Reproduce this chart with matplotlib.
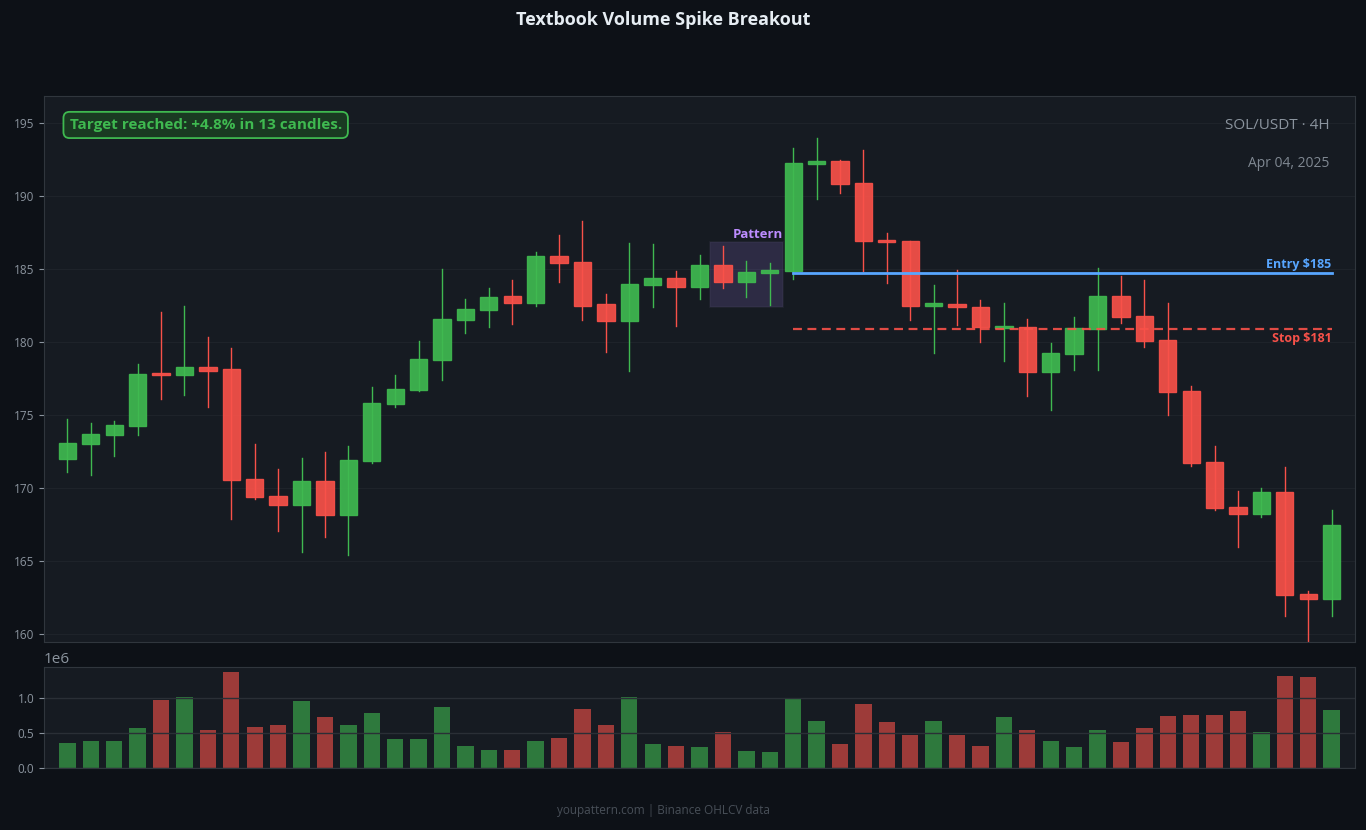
import matplotlib.pyplot as plt
from matplotlib.patches import Rectangle

plt.rcParams['font.family'] = ['Open Sans', 'DejaVu Sans']

# OHLCV data (SOL/USDT 4H)
opens = [171.97, 173.00, 173.63, 174.23, 177.84, 177.72, 178.27, 178.15, 170.60, 169.45,
         168.82, 170.46, 168.15, 171.85, 175.74, 176.68, 178.75, 181.49, 182.16, 183.15,
         182.64, 185.89, 185.48, 182.60, 181.44, 183.89, 184.37, 183.80, 185.26, 184.09,
         184.74, 184.86, 192.19, 192.40, 190.89, 186.97, 186.92, 182.50, 182.57, 182.38,
         180.94, 181.01, 177.93, 179.16, 180.89, 183.15, 181.78, 180.12, 176.63, 171.75,
         168.68, 168.20, 169.71, 162.72, 162.38]
highs = [174.74, 174.47, 174.59, 178.49, 182.07, 182.48, 180.36, 179.62, 173.03, 171.32,
         172.07, 172.48, 172.88, 176.92, 177.76, 180.10, 185.02, 182.96, 183.73, 184.25,
         186.18, 187.36, 188.32, 183.29, 186.80, 186.73, 184.88, 185.99, 186.59, 185.58,
         185.43, 193.32, 193.99, 192.45, 193.17, 187.48, 186.95, 183.89, 184.95, 182.88,
         182.69, 181.59, 179.95, 181.73, 185.10, 184.54, 184.25, 182.69, 177.00, 172.88,
         169.76, 169.98, 171.44, 162.96, 168.51]
lows = [171.10, 170.87, 172.16, 173.61, 176.13, 176.39, 175.53, 167.91, 169.28, 167.02,
        165.62, 166.61, 165.38, 171.68, 175.58, 176.63, 177.40, 180.62, 181.03, 181.25,
        182.48, 184.13, 181.49, 179.33, 178.03, 182.38, 181.11, 182.98, 183.68, 183.05,
        182.55, 184.35, 189.83, 190.19, 184.86, 184.06, 181.54, 179.25, 181.18, 180.02,
        178.68, 176.27, 175.36, 178.05, 178.05, 181.27, 179.69, 174.98, 171.54, 168.46,
        165.99, 167.98, 161.20, 159.42, 161.20]
closes = [173.08, 173.68, 174.30, 177.79, 177.74, 178.27, 177.98, 170.53, 169.35, 168.82,
          170.46, 168.15, 171.90, 175.82, 176.78, 178.82, 181.56, 182.26, 183.08, 182.64,
          185.89, 185.38, 182.50, 181.44, 183.97, 184.37, 183.80, 185.26, 184.09, 184.78,
          184.93, 192.26, 192.40, 190.79, 186.92, 186.88, 182.50, 182.67, 182.38, 181.01,
          181.08, 177.93, 179.23, 180.96, 183.15, 181.71, 180.07, 176.56, 171.71, 168.63,
          168.20, 169.71, 162.67, 162.38, 167.45]
volumes = [0.359, 0.388, 0.388, 0.574, 0.976, 1.019, 0.545, 1.378, 0.589, 0.617,
           0.962, 0.732, 0.617, 0.789, 0.416, 0.416, 0.876, 0.316, 0.258, 0.258,
           0.388, 0.431, 0.847, 0.617, 1.019, 0.344, 0.316, 0.301, 0.517, 0.244,
           0.230, 0.990, 0.675, 0.344, 0.919, 0.660, 0.474, 0.675, 0.474, 0.316,
           0.732, 0.545, 0.388, 0.301, 0.545, 0.373, 0.574, 0.746, 0.761, 0.761,
           0.818, 0.517, 1.321, 1.306, 0.833]
volumes = [v * 1e6 for v in volumes]

pattern_start, pattern_end = 28, 30
breakout_idx = 31
entry_price = 184.75
stop_price = 180.9

BG = '#0d1117'
PANEL = '#161b22'
GRID = '#1e232a'
TXT = '#8b949e'
GREEN = '#3fb950'
RED = '#f85149'

n = len(opens)
xs = list(range(n))

fig = plt.figure(figsize=(13.66, 8.3), dpi=100, facecolor=BG)
ax = fig.add_axes([0.0322, 0.2265, 0.9598, 0.6578])
axv = fig.add_axes([0.0322, 0.0747, 0.9598, 0.1217])

for a in (ax, axv):
    a.set_facecolor(PANEL)
    for s in a.spines.values():
        s.set_color('#30363d')
    a.tick_params(colors=TXT, labelsize=8.5)
    a.set_xticks([])
    a.set_xlim(-1, n)

# candles
for i in xs:
    o, h, l, c = opens[i], highs[i], lows[i], closes[i]
    col = GREEN if c >= o else RED
    ax.plot([i, i], [l, h], color=col, lw=1, zorder=2)
    bottom = min(o, c)
    height = max(abs(c - o), 0.12)
    ax.add_patch(Rectangle((i - 0.37, bottom), 0.74, height, facecolor=col,
                           edgecolor=col, lw=1, alpha=0.92, zorder=3))

ax.set_ylim(159.45, 196.85)
ax.set_yticks([160, 165, 170, 175, 180, 185, 190, 195])
ax.grid(axis='y', color=GRID, lw=0.8, zorder=1)
ax.set_axisbelow(True)

# pattern box
p_low = min(lows[pattern_start:pattern_end + 1]) - 0.15
p_high = max(highs[pattern_start:pattern_end + 1]) + 0.25
ax.add_patch(Rectangle((pattern_start - 0.55, p_low), pattern_end - pattern_start + 1.1,
                       p_high - p_low, facecolor='#8a6fd0', alpha=0.2,
                       edgecolor='#4f4a66', lw=1.2, zorder=1.5))
ax.text(pattern_end + 0.55, p_high + 0.05, 'Pattern', color='#bc8cff', fontsize=9.5,
        fontweight='bold', ha='right', va='bottom', zorder=5)

# entry / stop
ax.plot([breakout_idx, n - 1], [entry_price, entry_price], color='#58a6ff', lw=2, zorder=4)
ax.text(n - 1, entry_price + 0.1, 'Entry $185', color='#58a6ff', fontsize=9,
        fontweight='bold', ha='right', va='bottom', zorder=5)
ax.plot([breakout_idx, n - 1], [stop_price, stop_price], color=RED, lw=1.6,
        ls=(0, (4, 2.5)), alpha=0.9, zorder=4)
ax.text(n - 1, stop_price - 0.2, 'Stop $181', color=RED, fontsize=9,
        fontweight='bold', ha='right', va='top', zorder=5)

# annotations
ax.text(0.0195, 0.947, 'Target reached: +4.8% in 13 candles.', transform=ax.transAxes,
        color=GREEN, fontsize=11, fontweight='bold', ha='left', va='center', zorder=6,
        bbox=dict(boxstyle='round,pad=0.4', facecolor='#1a3a22', edgecolor=GREEN, lw=1.3))
ax.text(0.9805, 0.946, 'SOL/USDT · 4H', transform=ax.transAxes, color=TXT,
        fontsize=11, ha='right', va='center', zorder=6)
ax.text(0.9805, 0.876, 'Apr 04, 2025', transform=ax.transAxes, color=TXT,
        fontsize=10, ha='right', va='center', alpha=0.9, zorder=6)

# volume
vcols = [GREEN if closes[i] >= opens[i] else RED for i in xs]
axv.bar(xs, volumes, width=0.7, color=vcols, alpha=0.6, zorder=1)
axv.set_ylim(0, max(volumes) * 1.05)
axv.set_yticks([0, 0.5e6, 1.0e6])
axv.grid(axis='y', color='#2a2f36', lw=1, zorder=2)
axv.set_axisbelow(False)
axv.yaxis.get_offset_text().set_fontsize(11)
axv.yaxis.get_offset_text().set_color(TXT)

fig.text(0.4855, 0.976, 'Textbook Volume Spike Breakout', color='#e6edf3', fontsize=13,
         fontweight='bold', ha='center', va='center')
fig.text(0.4855, 0.024, 'youpattern.com | Binance OHLCV data', color='#484f58',
         fontsize=8.5, ha='center', va='center')

fig.savefig('out.png', dpi=100, facecolor=BG)
